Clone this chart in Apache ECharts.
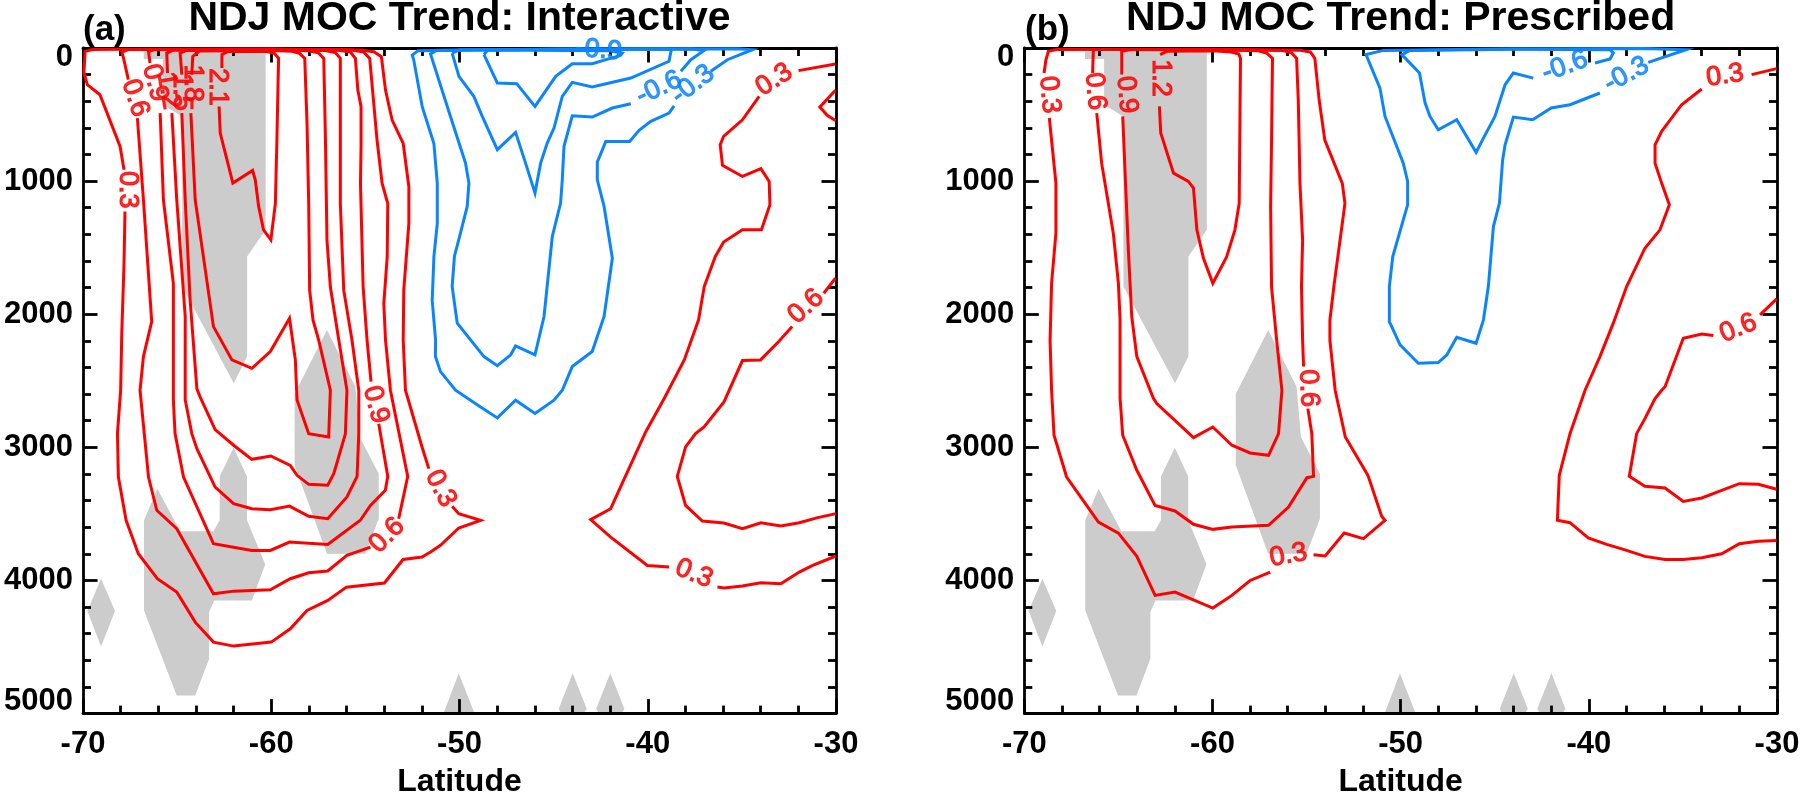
<!DOCTYPE html>
<html>
<head>
<meta charset="utf-8">
<style>html,body{margin:0;padding:0;background:#fff}#c{width:1800px;height:792px}</style>
<script src="https://cdn.jsdelivr.net/npm/echarts@6/dist/echarts.min.js"></script>
</head>
<body>
<div id="c"></div>
<script>
// Contours are [latitude, depth]; null marks a break in the line where a label sits.
const latTicks = [-70, -60, -50, -40, -30];
const depthTicks = [0, 1000, 2000, 3000, 4000, 5000];
const titles = ['NDJ MOC Trend: Interactive', 'NDJ MOC Trend: Prescribed'];
const panelTags = ['(a)', '(b)'];

// ---- significance shading (same on both panels)
const shadeUpper = [[-66.77,25],[-60.3,25],[-60.3,1366],[-61.28,1566],[-61.28,2318],[-61.99,2518],[-64.73,1792],[-64.73,514],[-65.76,426],[-65.76,83],[-66.77,83]];
const shadeMiddle = [[-57.04,2118],[-55.53,2544],[-55.3,2922],[-54.29,3198],[-54.29,3536],[-55,3799],[-57.04,3799],[-58.76,3135],[-58.76,2600]];
const shadeLower = [[-66.05,3310],[-66.76,3548],[-66.76,4225],[-65.02,4864],[-64.04,4864],[-63.3,4588],[-63.3,4237],[-63.03,4150],[-61.03,4150],[-60.32,3879],[-61.29,3548],[-61.29,3218],[-62,3002],[-62.74,3218],[-62.74,3548],[-63.07,3631],[-64.84,3631]];
const shadeDiamond = [[-69.04,3987],[-68.3,4230],[-69.04,4496],[-69.77,4230]];
const shadeTri1 = [[-50.04,4696],[-49.2,5000],[-50.85,5000]];
const shadeTri2 = [[-43.99,4696],[-43.24,4964],[-43.4,5000],[-44.6,5000],[-44.73,4964]];
const shadeTri3 = [[-41.99,4696],[-41.24,4964],[-41.4,5000],[-42.6,5000],[-42.74,4964]];

// ---- panel (a), positive
const a03 = [[-67.82,915],[-68.03,739],[-69.1,351],[-69.77,276],[-69.95,188],[-69.89,25],[-69.5,11],[-68,9],[-60,7],[-55.26,15],[-54.55,28],[-54.15,65],[-53.93,316],[-53.58,541],[-52.99,717],[-52.69,1042],[-52.69,1318],[-52.96,1819],[-52.99,2195],[-52.87,2571],[-51.99,2997],[-51.63,3160],null,
 [-50.39,3443],[-50.04,3498],[-48.88,3548],[-50.04,3606],[-51.01,3736],[-51.54,3786],[-51.99,3824],[-53,3842],[-53.99,4019],[-56.01,4050],[-57,4150],[-58.1,4225],[-58.99,4363],[-60,4463],[-62,4493],[-63.07,4463],[-64.04,4313],[-65.02,4087],[-66.05,3987],[-67.06,3799],[-67.71,3548],[-68.12,3223],[-68.17,2897],[-68,2571],[-67.94,2143],[-67.82,1616],[-67.77,1228]];
const a06 = [[-67.59,238],[-67.85,75],[-67.94,30],[-67.6,12],[-60,9],[-55.8,14],[-55.1,30],[-54.77,78],[-54.38,692],[-54.11,1017],[-53.81,1168],[-53.84,1569],[-54.02,1920],[-53.93,2195],[-53.67,2571],[-52.75,3218],[-53.23,3536],null,
 [-54.73,3749],[-55.98,3811],[-57,3929],[-58.01,3942],[-58.99,3987],[-60.05,4070],[-62,4080],[-63.07,4100],[-65.02,3611],[-66.08,3473],[-66.52,3223],[-66.97,2571],[-66.79,2318],[-66.35,2055],[-66.79,1140],[-67.11,526]];
const a09 = [[-66.44,113],[-66.52,25],[-66.2,14],[-60,11],[-56.5,16],[-55.8,30],[-55.53,78],[-55.4,316],[-55.23,441],[-55.23,742],[-55.26,1017],[-55.12,1794],[-54.91,2195],[-54.7,2506],null,
 [-54.29,2822],[-53.81,3218],[-53.94,3323],[-54.73,3436],[-55.27,3548],[-57,3729],[-59.03,3711],[-60.05,3774],[-61.03,3774],[-63.07,3724],[-64.66,3223],[-65.11,2897],[-65.2,2644],[-65.2,1767],[-65.73,1140],[-65.9,489]];
const a12 = [[-65.51,188],[-65.55,38],[-65.2,16],[-60,13],[-57.2,18],[-56.6,34],[-56.33,78],[-56.33,1168],[-56.15,1819],[-55.71,2195],[-55.35,2571],[-55.35,2897],[-55.44,3218],[-55.98,3373],[-57,3536],[-58.01,3518],[-59.03,3441],[-60.05,3468],[-61.03,3461],[-62,3423],[-62.98,3298],[-63.95,3010],[-64.22,2897],[-64.57,2644],[-64.57,2017],[-65.02,1140],[-65.28,489]];
const a15 = [[-64.75,200],[-64.84,38],[-64.5,18],[-60,15],[-58,20],[-57.5,36],[-57.21,78],[-57.12,692],[-57.04,1443],[-56.86,1794],[-56.41,2195],[-55.98,2571],[-56.06,2897],[-56.68,3198],[-57,3285],[-58.01,3278],[-58.63,3210],[-58.99,3135],[-60.02,3065],[-61.03,3090],[-62,2984],[-62.98,2867],[-63.78,2621],[-63.95,2560],[-64.31,1892],[-64.57,1140],[-64.75,489]];
const a18 = [[-64.22,200],[-64.17,63],[-63.8,22],[-60,19],[-58.9,25],[-58.5,40],[-58.22,78],[-58.1,566],[-58.01,1168],[-57.96,1819],[-57.78,2045],[-57.48,2195],[-56.86,2571],[-56.95,2922],[-58.01,2897],[-58.63,2644],[-58.72,2343],[-59.03,2030],[-60.05,2280],[-61.03,2406],[-62.09,2343],[-63.07,2093],[-64.04,1140],[-64.27,489]];
const a21 = [[-62.62,150],[-62.62,50],[-62.3,26],[-60.3,24],[-59.85,38],[-59.61,78],[-59.7,692],[-59.78,1168],[-60.02,1441],[-60.41,1366],[-60.67,1190],[-60.85,990],[-60.99,920],[-62.04,1015],[-62.71,639],[-62.77,439]];
const a03East = [[-30.03,120],[-31.99,170],null,
 [-34.08,363],[-34.97,539],[-35.97,664],[-36.15,727],[-36.03,882],[-34.97,965],[-33.99,907],[-33.55,1002],[-33.51,1178],[-33.96,1366],[-34.97,1366],[-35.97,1458],[-36.41,1566],[-37,1792],[-37.3,2042],[-38.06,2343],[-39.12,2631],[-40.11,2884],[-41.97,3461],[-43.03,3543],[-41.97,3674],[-40.02,3887],[-38.87,3899],null,
 [-36.3,4049],[-35.95,4057],[-34.97,4042],[-33.99,4017],[-32.93,4024],[-31.95,3937],[-31.24,3887],[-30,3816]];
const a03Edge = [[-30.03,318],[-30.86,444],[-30.47,506],[-30.03,544]];
const a06East = [[-30.03,1729],[-30.65,1842],null,
 [-32.33,2092],[-33.04,2205],[-34.01,2343],[-34.97,2348],[-35.95,2659],[-37.01,2847],[-37.46,2897],[-37.99,2997],[-38.43,3218],[-37.99,3436],[-37.1,3553],[-35.95,3568],[-34.97,3611],[-33.99,3566],[-32.93,3591],[-31.95,3566],[-30.97,3528],[-30,3498]];
// ---- panel (a), negative
const aN03 = [[-38.6,434],[-38.87,489],[-39.84,551],[-40.46,619],[-40.96,702],[-42.23,702],[-42.68,857],[-42.68,990],[-42.32,1190],[-41.88,1579],[-42.32,2017],[-42.95,2280],[-44.01,2393],[-44.54,2571],[-44.98,2646],[-45.99,2746],[-47.02,2646],[-47.99,2779],[-48.88,2696],[-50.21,2571],[-51.01,2431],[-51.28,2318],[-51.27,2195],[-51.45,1895],[-51.36,1569],[-51.18,1318],[-51.18,1017],[-51.36,717],[-51.98,441],[-52.43,90],[-52.51,53],[-52.2,20],[-45,8],[-35.2,6],[-34.44,13],[-35.77,88],[-36.65,175]];
const aN06 = [[-40.9,419],[-41.88,451],[-42.95,519],[-44.01,509],[-44.45,739],[-44.54,990],[-44.63,1165],[-45.07,1416],[-45.51,2017],[-45.99,2305],[-47.02,2238],[-47.28,2305],[-47.99,2386],[-48.7,2318],[-50.12,2067],[-50.39,1792],[-50.27,1566],[-49.95,1391],[-49.59,1190],[-49.5,1015],[-49.68,865],[-50.48,514],[-51.54,45],[-51.2,16],[-44,9],[-37.7,7],[-37,18],[-37.71,88],[-38.24,175]];
const aN09 = [[-50.39,38],[-50.03,213],[-49.24,363],[-48.79,514],[-47.99,764],[-47.02,634],[-46.49,865],[-45.99,1090],[-45.69,865],[-45.34,714],[-44.98,601],[-44.54,363],[-44.01,258],[-42.95,293],[-40.9,226],[-38.87,100],[-38.75,13],[-39.13,7],[-50,14],[-50.39,38]];
const aN12 = [[-48.7,50],[-47.99,263],[-46.96,268],[-45.99,439],[-44.89,213],[-44.01,118],[-42.95,118],[-41.44,55],[-41.35,38],[-42,20],[-48.5,15],[-48.7,50]];

// ---- panel (b), positive
const b03 = [[-68.95,188],[-68.85,88],[-68.72,25],[-68.3,11],[-60,9],[-55.4,16],[-54.8,30],[-54.56,78],[-54.33,391],[-54.03,692],[-53.1,1017],[-52.96,1168],[-53.55,1794],[-53.76,2045],[-53.76,2195],[-53.48,2571],[-52.94,2922],[-51.79,3198],[-51.72,3218],[-51.01,3518],[-50.83,3548],[-51.98,3686],[-53,3644],[-54.01,3816],[-54.63,3806],null,
 [-56.93,3937],[-58,4000],[-58.97,4112],[-59.98,4207],[-61.99,4087],[-63.05,4112],[-64.02,3819],[-65,3644],[-66.06,3561],[-67.75,3223],[-68.42,2909],[-68.55,2571],[-68.63,2200],[-68.55,1767],[-68.32,1391],[-68.32,1015],[-68.67,526]];
const b06 = [[-66.37,188],[-66.33,13],[-65.9,12],[-60,11],[-56.3,18],[-55.8,36],[-55.53,78],[-55.44,391],[-55.35,1017],[-55.21,1443],[-55.27,1794],[-55.21,2195],[-55.16,2393],null,
 [-54.93,2709],[-54.72,2897],[-54.63,3218],[-54.98,3228],[-55.96,3448],[-57.02,3586],[-58.97,3598],[-59.98,3616],[-61.01,3578],[-61.99,3478],[-63.05,3436],[-64.02,3172],[-64.77,2909],[-64.91,2631],[-64.91,2042],[-65,1767],[-65.27,1391],[-65.89,865],[-66.15,489]];
const b09 = [[-64.82,200],[-64.82,25],[-64.4,14],[-60,14],[-57.6,20],[-57.1,40],[-56.81,78],[-56.86,692],[-56.91,1193],[-56.86,1794],[-56.59,2195],[-56.31,2571],[-56.49,2897],[-57.02,3060],[-58,3042],[-58.97,2984],[-59.98,2847],[-61.01,2927],[-62.96,2671],[-63.14,2631],[-64.02,2318],[-64.29,2017],[-64.47,1516],[-64.77,514]];
const b12 = [[-62.78,50],[-62.4,24],[-60,20],[-59,30],[-58.6,45],[-58.51,78],[-58.58,1168],[-58.81,1368],[-59.25,1569],[-59.98,1767],[-60.48,1579],[-60.83,1366],[-61.01,1052],[-61.28,1002],[-62.07,940],[-62.75,639],[-62.82,439]];
const b03East = [[-30.02,155],[-31.35,200],null,
 [-34,308],[-35.07,426],[-36.13,626],[-36.48,727],[-36.48,865],[-36.13,1015],[-35.72,1178],[-36.22,1366],[-37.02,1504],[-37.99,1792],[-38.7,2067],[-39.41,2318],[-40.2,2571],[-41,2897],[-41.57,3210],[-41.67,3548],[-41,3566],[-40.03,3681],[-39.05,3729],[-37.99,3774],[-37.02,3819],[-35.95,3842],[-34.98,3842],[-34,3829],[-32.94,3799],[-32,3724],[-30.99,3706],[-30.02,3699]];
const b06East = [[-30.02,1885],[-30.9,2005],null,
 [-33.38,2160],[-34,2148],[-34.98,2180],[-35.95,2544],[-36.13,2571],[-36.48,2634],[-37.02,2784],[-37.46,2897],[-37.85,3218],[-37.02,3293],[-35.95,3305],[-34.98,3406],[-34,3380],[-32.94,3323],[-32,3273],[-30.99,3278],[-30.02,3315]];
// ---- panel (b), negative
const bN03 = [[-39.41,338],[-41,426],[-42,451],[-42.98,539],[-44.01,519],[-44.45,727],[-44.58,840],[-44.75,1165],[-45.07,1341],[-45.34,1792],[-45.6,2042],[-45.99,2218],[-47.02,2173],[-47.55,2306],[-48,2363],[-49.06,2368],[-50.03,2230],[-50.6,2055],[-50.6,1792],[-50.42,1566],[-49.63,1178],[-49.63,1002],[-49.86,865],[-50.83,514],[-51.1,301],[-51.84,50],[-50.92,18],[-45,8],[-37.02,4],[-34.84,13],[-36.84,108]];
const bN06 = [[-42.95,226],[-44.01,188],[-44.45,276],[-44.99,514],[-45.6,677],[-45.99,784],[-47.02,539],[-48,614],[-48.44,514],[-48.7,414],[-49,188],[-49.94,50],[-49.5,18],[-44,10],[-38.87,13],[-38.7,38],[-38.87,83],[-39.67,113]];

// ---- contour labels: latitude, depth, text, rotation
const aRedLabels = [[-67.65,1065,'0.3',-90],[-67.23,376,'0.6',-72],[-66.17,263,'0.9',-75],[-65.46,320,'1.2',-80],[-64.75,330,'1.5',-90],[-64.2,265,'1.8',-90],[-62.85,293,'2.1',-90],[-54.45,2680,'0.9',-75],[-51,3310,'0.3',-62],[-53.85,3661,'0.6',45],[-37.54,3949,'0.3',-22],[-33.28,238,'0.3',33],[-31.6,1942,'0.6',42]];
const aBlueLabels = [[-42.6,15,'-0.9',-5],[-39.4,300,'-0.6',25],[-37.6,275,'-0.3',38]];
const bRedLabels = [[-68.67,351,'0.3',-85],[-66.24,326,'0.6',-85],[-64.56,351,'0.9',-85],[-62.78,226,'1.2',-90],[-54.9,2556,'0.6',-88],[-55.96,3811,'0.3',10],[-32.76,208,'0.3',8],[-32.06,2105,'0.6',22]];
const bBlueLabels = [[-41.27,138,'-0.6',20],[-38,200,'-0.3',28]];

const RED = '#ff0000', BLUE = '#0a85ff', GRAY = '#cccccc', FONT = '"Liberation Sans", Arial, sans-serif';
const shades = [shadeUpper, shadeMiddle, shadeLower, shadeDiamond, shadeTri1, shadeTri2, shadeTri3];
const panels = [
  {left: 83, width: 753, red: [a03,a06,a09,a12,a15,a18,a21,a03East,a03Edge,a06East], blue: [aN03,aN06,aN09,aN12], redL: aRedLabels, blueL: aBlueLabels},
  {left: 1024.3, width: 752.7, red: [b03,b06,b09,b12,b03East,b06East], blue: [bN03,bN06], redL: bRedLabels, blueL: bBlueLabels}
];

const axisLine = {show: true, onZero: false, lineStyle: {color: '#000', width: 2.8}};
const tick = {show: true, inside: true, length: 14.5, lineStyle: {color: '#000', width: 2.8}};
const minor = {show: true, splitNumber: 5, length: 8, lineStyle: {color: '#000', width: 2.8}};
const labelBase = {fontFamily: FONT, fontWeight: 'bold', fontSize: 31, color: '#000'};

const grid = [], xAxis = [], yAxis = [], series = [], title = [];
panels.forEach((p, i) => {
  grid.push({left: p.left, width: p.width, top: 48, height: 665.6, outerBoundsMode: 'none', containLabel: false});
  const xb = {type: 'value', min: latTicks[0], max: latTicks[latTicks.length-1], interval: 10, gridIndex: i, splitLine: {show: false}, axisLine, axisTick: tick, minorTick: minor, z: 3};
  const yb = {type: 'value', inverse: true, min: depthTicks[0], max: depthTicks[depthTicks.length-1], interval: 1000, gridIndex: i, splitLine: {show: false}, axisLine, axisTick: tick, minorTick: minor, z: 3};
  xAxis.push(Object.assign({}, xb, {position: 'bottom', name: 'Latitude', nameLocation: 'middle', nameGap: 53,
    nameTextStyle: {fontFamily: FONT, fontWeight: 'bold', fontSize: 32, color: '#000'},
    axisLabel: Object.assign({}, labelBase, {margin: 15, showMinLabel: true, showMaxLabel: true})}));
  xAxis.push(Object.assign({}, xb, {position: 'top', axisLabel: {show: false}}));
  yAxis.push(Object.assign({}, yb, {position: 'left',
    axisLabel: Object.assign({}, labelBase, {margin: 10, showMinLabel: true, showMaxLabel: true,
      formatter: v => v === depthTicks[0] ? '{t|' + v + '}' : v === depthTicks[depthTicks.length-1] ? '{b|' + v + '}' : '' + v,
      rich: {t: Object.assign({}, labelBase, {padding: [18,0,0,0]}), b: Object.assign({}, labelBase, {padding: [0,0,24,0]})}})}));
  yAxis.push(Object.assign({}, yb, {position: 'right', axisLabel: {show: false}}));

  const xi = i * 2, yi = i * 2;
  series.push({type: 'custom', xAxisIndex: xi, yAxisIndex: yi, z: 1, silent: true, animation: false,
    data: shades.map((s, k) => [k]), encode: {x: -1, y: -1},
    renderItem: (params, api) => ({type: 'polygon',
      shape: {points: shades[api.value(0)].map(pt => api.coord(pt))},
      style: {fill: GRAY}})});
  const addLines = (list, color) => list.forEach(c => series.push({type: 'line', xAxisIndex: xi, yAxisIndex: yi, z: 5, silent: true, animation: false,
    symbol: 'none', connectNulls: false, lineStyle: {color, width: 3, join: 'miter', miterLimit: 6},
    data: c.map(pt => pt === null ? [NaN, NaN] : pt)}));
  addLines(p.red, RED);
  addLines(p.blue, BLUE);
  const addLabels = (list, color) => series.push({type: 'scatter', xAxisIndex: xi, yAxisIndex: yi, z: 6, silent: true, animation: false, clip: false,
    symbolSize: 1, itemStyle: {color: 'transparent'}, labelLayout: {hideOverlap: false},
    data: list.map(l => ({value: [l[0], l[1]], label: {show: true, position: 'inside', formatter: l[2], rotate: l[3],
      align: 'center', verticalAlign: 'middle', fontFamily: FONT, fontSize: 27, color, textBorderColor: color, textBorderWidth: 1.2}}))});
  addLabels(p.redL, RED);
  addLabels(p.blueL, BLUE);

  title.push({text: titles[i], left: p.left + p.width / 2, top: -2, textAlign: 'center', padding: 0,
    textStyle: {fontFamily: FONT, fontWeight: 'bold', fontSize: 41, color: '#000'}});
  title.push({text: panelTags[i], left: i === 0 ? 83 : 1025, top: 13, padding: 0,
    textStyle: {fontFamily: FONT, fontWeight: 'bold', fontSize: 35, color: '#000'}});
});

const chart = echarts.init(document.getElementById('c'), null, {renderer: 'canvas'});
chart.setOption({backgroundColor: '#fff', animation: false, title, grid, xAxis, yAxis, series, tooltip: {show: false}, legend: {show: false}});
</script>
</body>
</html>
